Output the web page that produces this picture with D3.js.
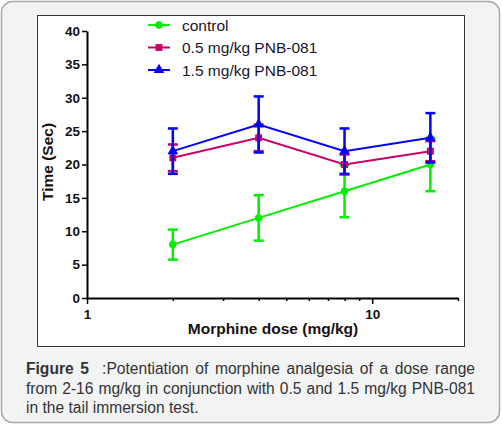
<!DOCTYPE html>
<html>
<head>
<meta charset="utf-8">
<script src="https://cdn.jsdelivr.net/npm/d3@7"></script>
<style>
body { margin: 0; background: #fff; }
svg { display: block; font-family: "Liberation Sans", Arial, sans-serif; }
</style>
</head>
<body>
<svg id="chart" width="502" height="425"></svg>
<script>
const doses = [2, 4, 8, 16];
const seriesNames = ['control', '0.5 mg/kg PNB-081', '1.5 mg/kg PNB-081'];
const controlMean = [8, 12, 16, 20];
const controlErr = [2.25, 3.4, 3.9, 4.0];
const lowMean = [21, 24, 20, 22];
const lowErr = [2, 2, 1.5, 1.5];
const highMean = [22, 26, 22, 24];
const highErr = [3.4, 4.2, 3.4, 3.7];
const yTicks = [0, 5, 10, 15, 20, 25, 30, 35, 40];
const xTicks = [1, 2, 3, 4, 5, 6, 7, 8, 9, 10, 20];
const xLabels = [1, 10];
const captionLines = [
    ['Figure 5', '  :Potentiation of morphine analgesia of a dose range'],
    ['', 'from 2-16 mg/kg in conjunction with 0.5 and 1.5 mg/kg PNB-081'],
    ['', 'in the tail immersion test.']
];

const colors = ['#00ee00', '#cc0066', '#0000ff'];
const shapes = [d3.symbolCircle, d3.symbolSquare, d3.symbolTriangle];
const symSize = [44, 48, 50];
const fontFam = '"Liberation Sans", Arial, sans-serif';

function zip(a, b) {
    return a.map(function(e, i) { return [e, b[i]]; });
}

const svg = d3.select('#chart');

// card background
svg.append('rect')
    .attr('x', 1.5).attr('y', 1.5)
    .attr('width', 498).attr('height', 421)
    .attr('rx', 11)
    .attr('fill', '#f2f3f3')
    .attr('stroke', '#a8a8a8')
    .attr('stroke-width', 1.5);

// white chart box
svg.append('rect')
    .attr('x', 37.5).attr('y', 15.5)
    .attr('width', 427).attr('height', 331)
    .attr('fill', '#fff')
    .attr('stroke', '#333')
    .attr('stroke-width', 1);

const x = d3.scaleLog().domain([1, 20]).range([87, 458]);
const y = d3.scaleLinear().domain([0, 40]).range([298, 31]);

// y axis
const gy = svg.append('g')
    .attr('transform', 'translate(87,0)')
    .call(d3.axisLeft(y).tickValues(yTicks).tickSize(5).tickPadding(2).tickSizeOuter(0));
gy.select('.domain').attr('stroke', '#000').attr('stroke-width', 2);
gy.selectAll('.tick line').attr('stroke', '#000').attr('stroke-width', 1.5);
gy.selectAll('.tick text')
    .attr('font-size', 13.5).attr('font-weight', 'bold').attr('fill', '#111')
    .attr('font-family', fontFam);

// x axis
const gx = svg.append('g')
    .attr('transform', 'translate(0,298)')
    .call(d3.axisBottom(x).tickValues(xTicks).tickSize(3).tickSizeOuter(0)
        .tickFormat(d => xLabels.includes(d) ? d : ''));
gx.select('.domain').attr('stroke', '#000').attr('stroke-width', 2);
gx.selectAll('.tick line').attr('stroke', '#000').attr('stroke-width', 1.5)
    .attr('y2', d => xLabels.includes(d) ? 6 : 3);
gx.selectAll('.tick text')
    .attr('font-size', 13.5).attr('font-weight', 'bold').attr('fill', '#111')
    .attr('y', 11)
    .attr('font-family', fontFam);

// axis titles
svg.append('text')
    .attr('transform', 'translate(53,162) rotate(-90)')
    .attr('text-anchor', 'middle')
    .attr('font-size', 15.5).attr('font-weight', 'bold').attr('fill', '#1a1010')
    .text('Time (Sec)');

svg.append('text')
    .attr('x', 273).attr('y', 334)
    .attr('text-anchor', 'middle')
    .attr('font-size', 15.5).attr('font-weight', 'bold').attr('fill', '#1a1010')
    .text('Morphine dose (mg/kg)');

// series
const series = [
    {means: controlMean, errs: controlErr},
    {means: lowMean, errs: lowErr},
    {means: highMean, errs: highErr}
];

const line = d3.line().x(d => x(d[0])).y(d => y(d[1]));

series.forEach((s, k) => {
    const pts = zip(doses, s.means).map((p, i) => ({dose: p[0], mean: p[1], err: s.errs[i]}));
    const g = svg.append('g').attr('class', 'series-' + k);

    g.append('path')
        .datum(pts.map(p => [p.dose, p.mean]))
        .attr('d', line)
        .attr('fill', 'none')
        .attr('stroke', colors[k])
        .attr('stroke-width', 2);

    const eb = g.selectAll('.err')
        .data(pts)
        .enter()
        .append('g')
        .attr('stroke', colors[k])
        .attr('stroke-width', 2.5);
    eb.append('line')
        .attr('x1', d => x(d.dose)).attr('x2', d => x(d.dose))
        .attr('y1', d => y(d.mean - d.err)).attr('y2', d => y(d.mean + d.err));
    eb.append('line')
        .attr('x1', d => x(d.dose) - 5).attr('x2', d => x(d.dose) + 5)
        .attr('y1', d => y(d.mean + d.err)).attr('y2', d => y(d.mean + d.err));
    eb.append('line')
        .attr('x1', d => x(d.dose) - 5).attr('x2', d => x(d.dose) + 5)
        .attr('y1', d => y(d.mean - d.err)).attr('y2', d => y(d.mean - d.err));

    g.selectAll('.mark')
        .data(pts)
        .enter()
        .append('path')
        .attr('d', d3.symbol().type(shapes[k]).size(symSize[k]))
        .attr('transform', d => 'translate(' + x(d.dose) + ',' + y(d.mean) + ')')
        .attr('fill', colors[k]);
});

// legend
const legend = svg.append('g');
seriesNames.forEach((name, k) => {
    const ly = 25 + k * 22.5;
    legend.append('line')
        .attr('x1', 148).attr('x2', 170)
        .attr('y1', ly).attr('y2', ly)
        .attr('stroke', colors[k]).attr('stroke-width', 2);
    legend.append('path')
        .attr('d', d3.symbol().type(shapes[k]).size(symSize[k])())
        .attr('transform', 'translate(159,' + ly + ')')
        .attr('fill', colors[k]);
    legend.append('text')
        .attr('x', 182).attr('y', ly + 5.5)
        .attr('font-size', 15.5).attr('fill', '#1a1430')
        .text(name);
});

// caption (first two lines justified to the same width)
const captionWidth = 449;
captionLines.forEach((ln, i) => {
    const t = svg.append('text')
        .attr('x', 26).attr('y', 374 + i * 19.5)
        .attr('font-size', 15.6).attr('fill', '#333')
        .attr('xml:space', 'preserve');
    if (ln[0]) t.append('tspan').attr('font-weight', 'bold').text(ln[0]);
    t.append('tspan').text(ln[1]);
    if (i < captionLines.length - 1) {
        const len = t.node().getComputedTextLength();
        const spaces = (ln[0] + ln[1]).split(' ').length - 1;
        t.attr('word-spacing', Math.max(0, (captionWidth - len) / spaces));
    }
});
</script>
</body>
</html>
